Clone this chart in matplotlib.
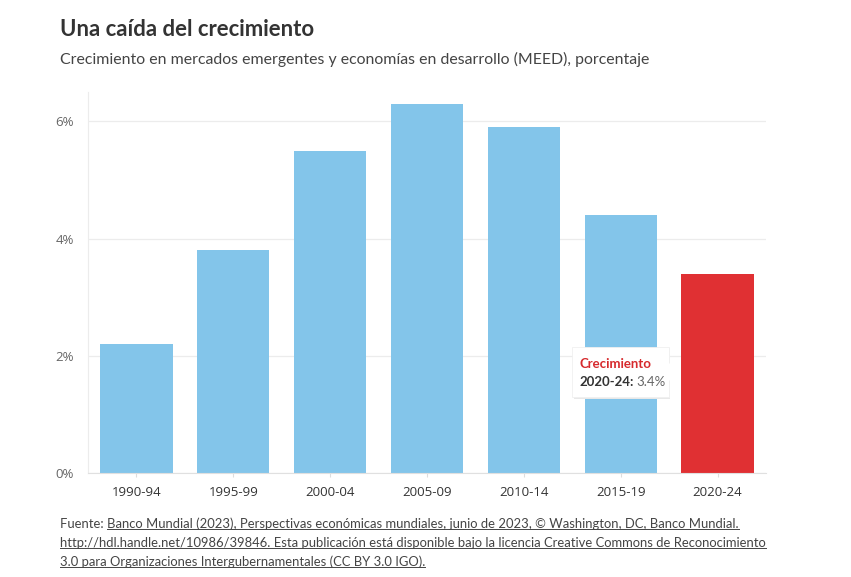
import matplotlib.pyplot as plt
from matplotlib.patches import FancyBboxPatch, Polygon
from matplotlib.lines import Line2D

periodos = ['1990-94', '1995-99', '2000-04', '2005-09', '2010-14', '2015-19', '2020-24']
crecimiento = [2.2, 3.8, 5.5, 6.3, 5.9, 4.4, 3.4]
colores = ['#83c5ea'] * 6 + ['#e03033']
yticks = [0, 2, 4, 6]
ytick_labels = ['0%', '2%', '4%', '6%']

titulo = 'Una caída del crecimiento'
subtitulo = 'Crecimiento en mercados emergentes y economías en desarrollo (MEED), porcentaje'
fuente = ['Banco Mundial (2023), Perspectivas económicas mundiales, junio de 2023, © Washington, DC, Banco Mundial.',
          'http://hdl.handle.net/10986/39846. Esta publicación está disponible bajo la licencia Creative Commons de Reconocimiento',
          '3.0 para Organizaciones Intergubernamentales (CC BY 3.0 IGO).']

W, H = 851, 577
fig = plt.figure(figsize=(W / 100, H / 100), dpi=100)
fig.patch.set_facecolor('white')
ax = fig.add_axes([88 / W, 1 - 473 / H, (766 - 88) / W, (473 - 92) / H])

x = range(len(periodos))
ax.bar(x, crecimiento, width=0.745, color=colores, zorder=2)
ax.set_xlim(-0.5, len(periodos) - 0.5)
ax.set_ylim(0, 6.5)
ax.set_yticks(yticks)
ax.set_yticklabels(ytick_labels)
ax.set_xticks(list(x))
ax.set_xticklabels(periodos)
ax.yaxis.grid(True, color='#ececec', linewidth=0.9, zorder=0)
for s in ['top', 'right']:
    ax.spines[s].set_visible(False)
ax.spines['left'].set_color('#ececec')
ax.spines['bottom'].set_color('#e0e0e0')
ax.tick_params(axis='y', length=0, pad=10, labelsize=9.5, labelcolor='#666666')
ax.tick_params(axis='x', length=3, color='#dddddd', pad=6, labelsize=9.5, labelcolor='#333333')
for lab in ax.get_xticklabels() + ax.get_yticklabels():
    lab.set_family('Open Sans')

# tooltip
shadow = FancyBboxPatch((574 / W, 1 - 399 / H), 96 / W, 51 / H, boxstyle='square,pad=0',
                        transform=fig.transFigure, facecolor='#e8e8e8', edgecolor='none', zorder=5)
box = FancyBboxPatch((572 / W, 1 - 397 / H), 97 / W, 50 / H, boxstyle='square,pad=0',
                     transform=fig.transFigure, facecolor='white', edgecolor='#f0f0f0', linewidth=0.6, zorder=6)
arrow = Polygon([(668 / W, 1 - 362 / H), (678 / W, 1 - 372 / H), (668 / W, 1 - 382 / H)],
                closed=True, transform=fig.transFigure, facecolor='white', edgecolor='none', zorder=7)
fig.patches.extend([shadow, box, arrow])
fig.text(579 / W, 1 - 364 / H, 'Crecimiento', color='#d62a2d', fontsize=9.5, fontweight='bold',
         family='Lato', va='center', zorder=8)
t1 = fig.text(579 / W, 1 - 382 / H, periodos[-1] + ':', color='#333333', fontsize=9.5, fontweight='bold',
              family='Lato', va='center', zorder=8)

fig.text(60 / W, 1 - 30 / H, titulo, fontsize=15.9, fontweight='bold', color='#333333', family='Lato', va='center')
fig.text(60 / W, 1 - 59 / H, subtitulo, fontsize=11.4, color='#444444', family='Lato', va='center')

fig.canvas.draw()
r = fig.canvas.get_renderer()
bb = t1.get_window_extent(r)
fig.text(bb.x1 / W + 3 / W, 1 - 382 / H, '%.1f%%' % crecimiento[-1], color='#666666', fontsize=9.5,
         family='Lato', va='center', zorder=8)

# footer with underline
ys = [524, 543, 562]
t0 = fig.text(60 / W, 1 - ys[0] / H, 'Fuente: ', fontsize=9.4, color='#444444', family='Lato', va='center')
fig.canvas.draw()
x0 = t0.get_window_extent(r).x1
for i, line in enumerate(fuente):
    xs = x0 if i == 0 else 60
    t = fig.text(xs / W, 1 - ys[i] / H, line, fontsize=9.4, color='#444444', family='Lato', va='center')
    fig.canvas.draw()
    b = t.get_window_extent(r)
    fig.add_artist(Line2D([b.x0 / W, b.x1 / W], [(b.y0 + 1) / H, (b.y0 + 1) / H],
                          transform=fig.transFigure, color='#444444', linewidth=0.7))

fig.savefig('out.png', dpi=100, facecolor='white')
